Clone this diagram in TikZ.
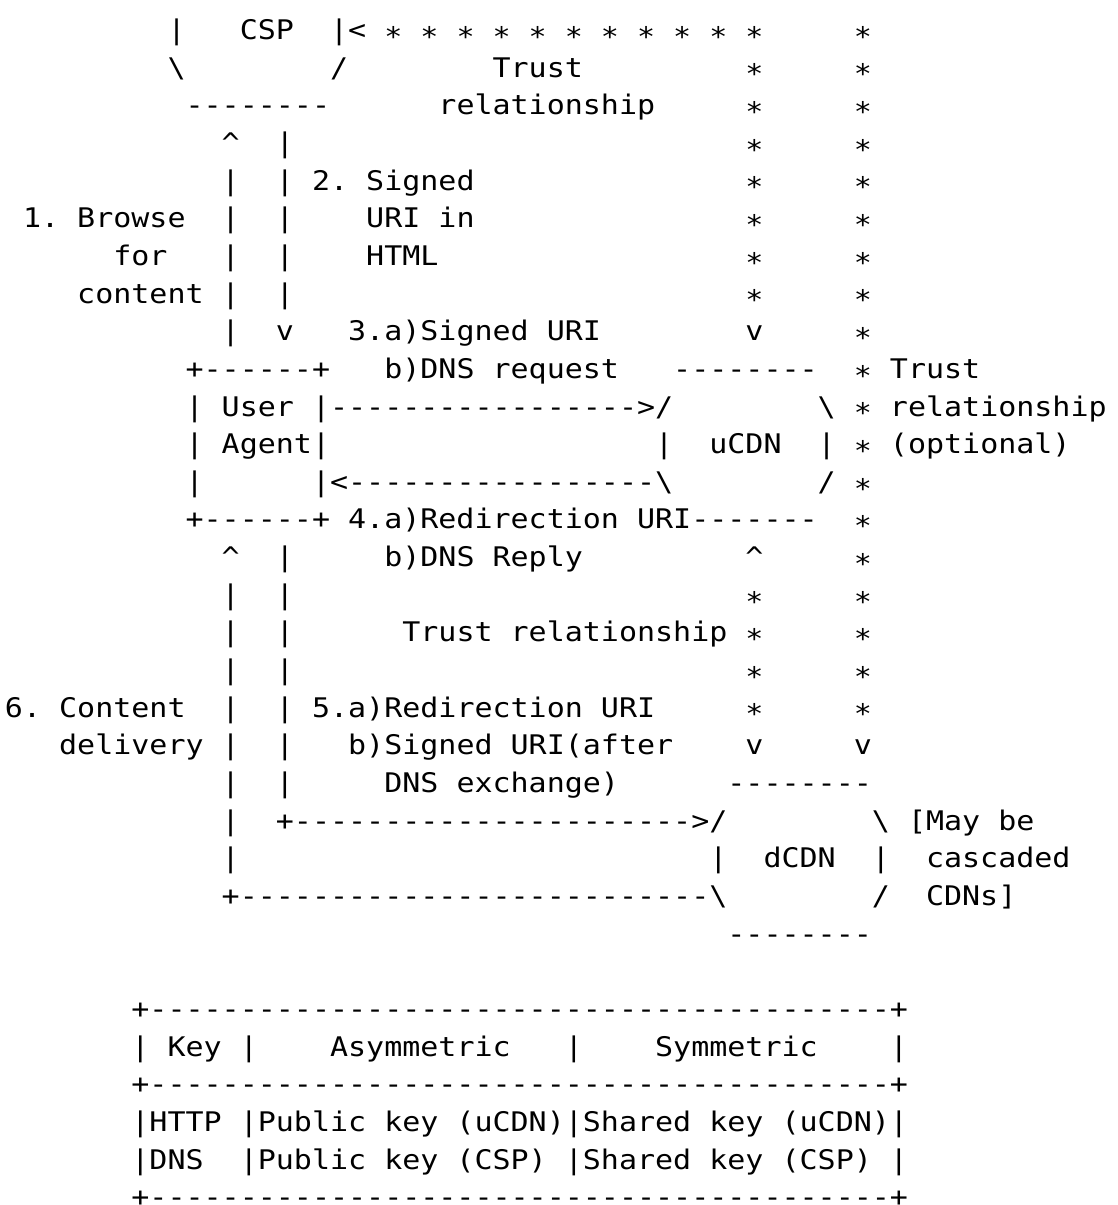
\documentclass[tikz,border=0pt]{standalone}
\usepackage{fontspec}
\setmonofont{DejaVu Sans Mono}[FakeStretch=1.1111]
\ExplSyntaxOn
\cs_new:Npn \dashrun #1 { \prg_replicate:nn {#1} { - \kern0pt } }
\ExplSyntaxOff
\newcommand\astr{\raisebox{-0.25em}{*}}
\newcommand\bsl{\textbackslash}
\newcommand\crt{\textasciicircum}
\newcommand\seg[4]{\node[txt] (#1) at (#2,#3) {#4};}
\tikzset{txt/.style={anchor=base west, inner sep=0pt, outer sep=0pt,
  font=\fontsize{27}{33}\selectfont\ttfamily\frenchspacing}}
\begin{document}
\begin{tikzpicture}[x=18.06pt,y=-37.65pt]
\fill[white] (0pt,0pt) rectangle (1117pt,-1205pt);
\useasboundingbox (0pt,0pt) rectangle (1117pt,-1205pt);
\begin{scope}[shift={(5pt,-39.5pt)}]
% CSP box
\seg{cspL0}{9}{0}{|}
\seg{csp}{13}{0}{CSP}
\seg{cspR0}{18}{0}{|<}
\seg{trustline}{21}{0}{\astr{} \astr{} \astr{} \astr{} \astr{} \astr{} \astr{} \astr{} \astr{} \astr{} \astr{}}
\seg{cspL1}{9}{1}{\bsl}
\seg{cspR1}{18}{1}{/}
\seg{trA}{27}{1}{Trust}
\seg{cspB}{10}{2}{\dashrun{8}}
\seg{trB}{24}{2}{relationship}
% star columns
\foreach \r in {1,...,7,15,17,18} {\seg{i\r}{41}{\r}{\astr}}
\foreach \r in {0,...,8,13,14,15,16,17,18} {\seg{o\r}{47}{\r}{\astr}}
% left arrows
\seg{up1}{12}{3}{\crt}
\foreach \r in {4,5,6,8,15,16,17,18,20,21,22} {\seg{l\r}{12}{\r}{|}}
\foreach \r in {3,5,6,7,14,15,16,17,19,20} {\seg{r\r}{15}{\r}{|}}
\seg{s2}{15}{4}{| 2. Signed}
\seg{b1}{1}{5}{1. Browse}
\seg{s2b}{20}{5}{URI in}
\seg{b2}{6}{6}{for}
\seg{s2c}{20}{6}{HTML}
\seg{b3}{4}{7}{content |}
\seg{r8}{15}{8}{v}
\seg{s3a}{19}{8}{3.a)Signed URI}
\seg{i8}{41}{8}{v}
% user agent and uCDN
\seg{uaT}{10}{9}{+\dashrun{6}+}
\seg{s3b}{21}{9}{b)DNS request}
\seg{ucT}{37}{9}{\dashrun{8}}
\seg{o9}{47}{9}{\astr{} Trust}
\seg{ua1}{10}{10}{| User |\dashrun{17}>/}
\seg{uc1}{45}{10}{\bsl{} \astr{} relationship}
\seg{ua2}{10}{11}{| Agent|}
\seg{ucL}{36}{11}{|}
\seg{ucdn}{39}{11}{uCDN}
\seg{uc2}{45}{11}{| \astr{} (optional)}
\seg{ua3}{10}{12}{|}
\seg{ua3b}{17}{12}{|<\dashrun{17}\bsl}
\seg{uc3}{45}{12}{/ \astr}
\seg{uaB}{10}{13}{+\dashrun{6}+ 4.a)Redirection URI\dashrun{7}}
\seg{up2}{12}{14}{\crt}
\seg{s4b}{21}{14}{b)DNS Reply}
\seg{i14}{41}{14}{\crt}
\seg{tr3}{22}{16}{Trust relationship \astr}
\seg{c1}{0}{18}{6. Content}
\seg{s5a}{15}{18}{| 5.a)Redirection URI}
\seg{c2}{3}{19}{delivery |}
\seg{s5b}{19}{19}{b)Signed URI(after}
\seg{i19}{41}{19}{v}
\seg{o19}{47}{19}{v}
\seg{s5c}{21}{20}{DNS exchange)}
\seg{dcT}{40}{20}{\dashrun{8}}
% dCDN
\seg{a5}{15}{21}{+\dashrun{22}>/}
\seg{dc1}{48}{21}{\bsl{} [May be}
\seg{dcL}{39}{22}{|}
\seg{dcdn}{42}{22}{dCDN}
\seg{dcR}{48}{22}{|}
\seg{casc}{51}{22}{cascaded}
\seg{a6}{12}{23}{+\dashrun{26}\bsl}
\seg{dc3}{48}{23}{/}
\seg{cdns}{51}{23}{CDNs]}
\seg{dcB}{40}{24}{\dashrun{8}}
% table
\seg{tT}{7}{26}{+\dashrun{41}+}
\seg{tK}{7}{27}{| Key |}
\seg{tA}{18}{27}{Asymmetric}
\seg{tm}{31}{27}{|}
\seg{tS}{36}{27}{Symmetric}
\seg{tr}{49}{27}{|}
\seg{tM}{7}{28}{+\dashrun{41}+}
\seg{tH}{7}{29}{|HTTP |Public key (uCDN)|Shared key (uCDN)|}
\seg{tD}{7}{30}{|DNS}
\seg{tD2}{13}{30}{|Public key (CSP)}
\seg{tD3}{31}{30}{|Shared key (CSP)}
\seg{tD4}{49}{30}{|}
\seg{tB}{7}{31}{+\dashrun{41}+}
\end{scope}
\end{tikzpicture}
\end{document}
